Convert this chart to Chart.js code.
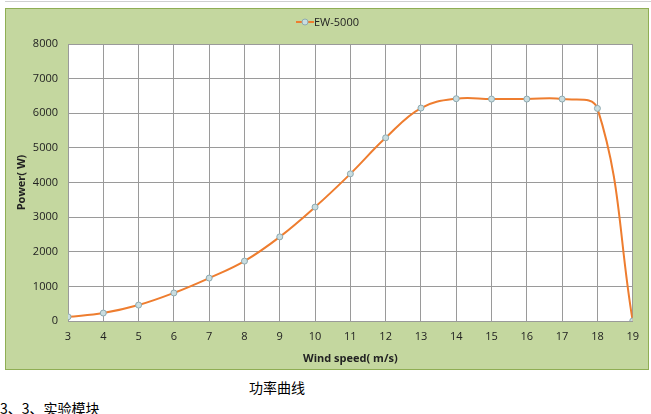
<!DOCTYPE html>
<html>
<head>
<meta charset="utf-8">
<script src="https://cdn.jsdelivr.net/npm/chart.js@4"></script>
<style>
  body { margin: 0; background: #fff; width: 651px; height: 414px; position: relative; overflow: hidden; font-family: "Noto Sans CJK SC", sans-serif; }
  .topline { position: absolute; left: 5px; top: 1px; width: 646px; height: 0; border-top: 1px solid #d0d0d0; }
  .box { position: absolute; left: 5px; top: 8px; width: 642px; height: 360px; background: #c4d79f; border: 1px solid #8fae54; }
  .box canvas { display: block; }
  .caption { position: absolute; left: 249px; top: 377px; font-size: 14px; line-height: 20px; color: #000; }
  .para { position: absolute; left: 0; top: 398px; font-size: 14px; line-height: 20px; color: #000; }
</style>
</head>
<body>
<div class="topline"></div>
<div class="box"><canvas id="powerChart" width="642" height="360"></canvas></div>
<div class="caption">功率曲线</div>
<div class="para">3、3、实验模块</div>
<script>
    // --- data ---
    const windSpeeds = [3, 4, 5, 6, 7, 8, 9, 10, 11, 12, 13, 14, 15, 16, 17, 18, 19];
    const powerValues = [120, 230, 460, 810, 1240, 1730, 2430, 3290, 4250, 5290, 6150, 6420, 6410, 6410, 6410, 6140, 0];
    const yTicks = [0, 1000, 2000, 3000, 4000, 5000, 6000, 7000, 8000];
    const seriesName = 'EW-5000';

    const lineColor = '#ee7d2f';
    const gridColor = '#9a9a9a';
    const tickFont = { family: 'Open Sans', size: 11 };

    // white plot area inside the green chart box
    const plotBackground = {
        id: 'plotBackground',
        beforeDraw(chart) {
            const a = chart.chartArea;
            chart.ctx.save();
            chart.ctx.fillStyle = '#ffffff';
            chart.ctx.fillRect(a.left, a.top, a.right - a.left, a.bottom - a.top);
            chart.ctx.restore();
        }
    };

    // Excel style legend: short line with a marker in the middle
    const legendPlugin = {
        id: 'excelLegend',
        afterDraw(chart) {
            const ctx = chart.ctx;
            const cx = 299, cy = 13;
            ctx.save();
            ctx.strokeStyle = lineColor;
            ctx.lineWidth = 2;
            ctx.beginPath();
            ctx.moveTo(cx - 9, cy);
            ctx.lineTo(cx + 9, cy);
            ctx.stroke();
            ctx.beginPath();
            ctx.arc(cx, cy, 3, 0, Math.PI * 2);
            ctx.fillStyle = '#c9dde0';
            ctx.fill();
            ctx.strokeStyle = '#8eaab1';
            ctx.lineWidth = 1;
            ctx.stroke();
            ctx.fillStyle = '#222';
            ctx.font = '11px "Open Sans"';
            ctx.textBaseline = 'middle';
            ctx.fillText(seriesName, cx + 9, cy + 1);
            ctx.restore();
        }
    };

    const ctx = document.getElementById('powerChart').getContext('2d');
    new Chart(ctx, {
        type: 'line',
        data: {
            datasets: [{
                label: seriesName,
                data: windSpeeds.map((x, i) => ({ x: x, y: powerValues[i] })),
                borderColor: lineColor,
                borderWidth: 2,
                tension: 0.4,
                pointRadius: 3,
                pointBorderWidth: 1,
                pointBackgroundColor: '#c9dde0',
                pointBorderColor: '#8eaab1',
                fill: false,
            }]
        },
        options: {
            responsive: false,
            animation: false,
            layout: { padding: { top: 35, right: 11, left: 5, bottom: 0 } },
            scales: {
                x: {
                    type: 'linear',
                    min: 3,
                    max: 19,
                    ticks: { stepSize: 1, color: '#222', font: tickFont, padding: 9 },
                    grid: { color: gridColor, drawTicks: false },
                    border: { color: gridColor },
                    title: { display: true, text: 'Wind speed( m/s)', color: '#222', font: { family: 'Open Sans', size: 11, weight: 'bold' }, padding: { top: 0 } },
                    afterFit(scale) { scale.height = 48; }
                },
                y: {
                    min: 0,
                    max: 8000,
                    afterBuildTicks(scale) { scale.ticks = yTicks.map(v => ({ value: v })); },
                    ticks: { color: '#222', font: tickFont, padding: 10, callback: v => String(v) },
                    grid: { color: gridColor, drawTicks: false },
                    border: { color: gridColor },
                    title: { display: true, text: 'Power( W)', color: '#222', font: { family: 'Open Sans', size: 11, weight: 'bold' } },
                    afterFit(scale) { scale.width = 57; }
                }
            },
            plugins: {
                legend: { display: false },
                tooltip: { enabled: false }
            }
        },
        plugins: [plotBackground, legendPlugin]
    });
</script>
</body>
</html>
